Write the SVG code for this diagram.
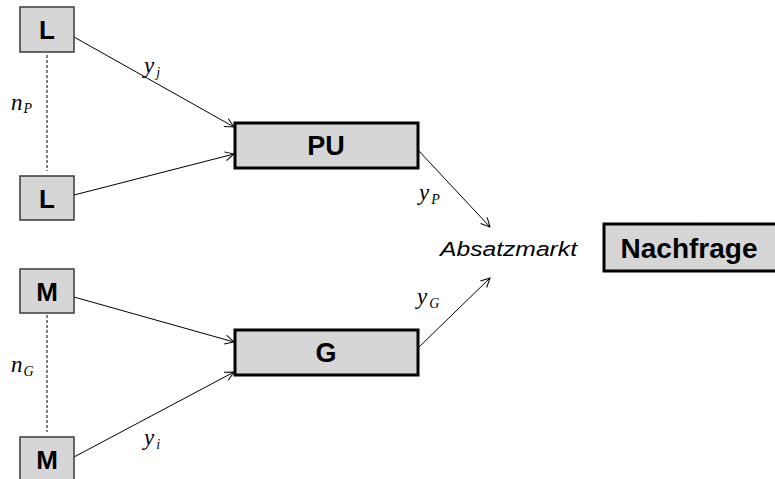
<svg xmlns="http://www.w3.org/2000/svg" width="775" height="479" viewBox="0 0 775 479">
<style>
.small{fill:#d6d6d6;stroke:#3a3a3a;stroke-width:1.5}
.big{fill:#d6d6d6;stroke:#000;stroke-width:3}
.bt{font-family:"Liberation Sans",Arial,sans-serif;font-weight:bold;fill:#000;text-anchor:middle}
.conn{stroke:#000;stroke-width:1;fill:none;marker-end:url(#arr)}
.dash{stroke:#808080;stroke-width:2;stroke-dasharray:3,2;fill:none}
.m{font-family:"Liberation Serif","Times New Roman",serif;font-style:italic;fill:#000}
.ms{font-size:23px}
.ss{font-size:14px}
</style>
<defs>
<marker id="arr" markerWidth="12" markerHeight="12" refX="10" refY="5" orient="auto" markerUnits="userSpaceOnUse">
<path d="M1,0.5 L10,5 L1,9.5" fill="none" stroke="#000" stroke-width="1"/>
</marker>
</defs>
<g id="connectors">
<line class="conn" x1="74" y1="37" x2="234" y2="127"/>
<line class="conn" x1="74" y1="195" x2="234" y2="154"/>
<line class="conn" x1="74" y1="297" x2="234" y2="342"/>
<line class="conn" x1="74" y1="457" x2="234" y2="372"/>
<line class="conn" x1="418" y1="150" x2="490" y2="227"/>
<line class="conn" x1="418" y1="348" x2="490" y2="278"/>
<line class="dash" x1="47" y1="55" x2="47" y2="171"/>
<line class="dash" x1="47" y1="315" x2="47" y2="432"/>
</g>
<g id="L1"><rect class="small" x="20" y="7" width="54" height="45"/><text class="bt" x="47" y="39" font-size="26">L</text></g>
<g id="L2"><rect class="small" x="20" y="176" width="54" height="44"/><text class="bt" x="47" y="208" font-size="26">L</text></g>
<g id="M1"><rect class="small" x="20" y="269" width="54" height="44"/><text class="bt" x="47" y="301" font-size="26">M</text></g>
<g id="M2"><rect class="small" x="20" y="437" width="54" height="45"/><text class="bt" x="47" y="469" font-size="26">M</text></g>
<g id="PU"><rect class="big" x="235" y="123" width="183" height="45"/><text class="bt" x="326" y="155" font-size="27">PU</text></g>
<g id="G"><rect class="big" x="235" y="330" width="183" height="45"/><text class="bt" x="326" y="362" font-size="27">G</text></g>
<g id="Nachfrage"><rect class="big" x="604" y="224" width="175" height="47"/><text class="bt" x="689" y="258" font-size="28">Nachfrage</text></g>
<g id="Absatzmarkt"><text x="440" y="256" font-family="'Liberation Sans',Arial,sans-serif" font-style="italic" font-size="20" textLength="137" lengthAdjust="spacingAndGlyphs">Absatzmarkt</text></g>
<g id="labels">
<text class="m" x="11" y="110"><tspan class="ms">n</tspan><tspan class="ss" dx="1" dy="3">P</tspan></text>
<text class="m" x="11" y="372"><tspan class="ms">n</tspan><tspan class="ss" dx="1" dy="4">G</tspan></text>
<text class="m" x="144" y="73"><tspan class="ms">y</tspan><tspan class="ss" dx="2" dy="4">j</tspan></text>
<text class="m" x="419" y="200"><tspan class="ms">y</tspan><tspan class="ss" dx="2" dy="4">P</tspan></text>
<text class="m" x="417" y="304"><tspan class="ms">y</tspan><tspan class="ss" dx="2" dy="4">G</tspan></text>
<text class="m" x="144" y="445"><tspan class="ms">y</tspan><tspan class="ss" dx="2" dy="4">i</tspan></text>
</g>
</svg>
